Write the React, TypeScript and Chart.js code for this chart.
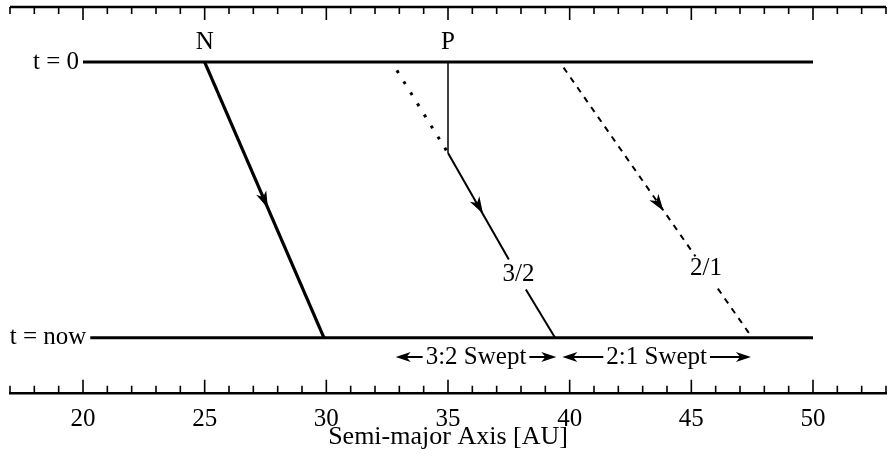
import React, { useEffect, useRef } from 'react';
import { Chart, registerables } from 'chart.js';

Chart.register(...registerables);

// x: semi-major axis [AU]; y: epoch (1 = t = 0, 0 = t = now)
const X_MIN = 17;
const X_MAX = 53;
const EPOCH_MIN = -0.2;
const EPOCH_MAX = 1.2;
const xLabelValues = [20, 25, 30, 35, 40, 45, 50];

const startEpochLine = [{ x: 20, y: 1 }, { x: 50, y: 1 }];
const nowEpochLine = [{ x: 20.3, y: 0 }, { x: 50, y: 0 }];
const neptunePath = [{ x: 25, y: 1 }, { x: 29.9, y: 0 }];
const plutoDrop = [{ x: 35, y: 1 }, { x: 35, y: 0.67 }];
const res32Before = [{ x: 32.9, y: 0.97 }, { x: 35, y: 0.67 }];
const res32Upper = [{ x: 35, y: 0.67 }, { x: 37.5, y: 0.284 }];
const res32Lower = [{ x: 38.2, y: 0.175 }, { x: 39.4, y: 0 }];
const res21Upper = [{ x: 39.75, y: 0.98 }, { x: 45.17, y: 0.295 }];
const res21Lower = [{ x: 46.09, y: 0.178 }, { x: 47.5, y: 0 }];

const arrowMarks = [
  { x: 27.6, y: 0.47, path: neptunePath },
  { x: 36.44, y: 0.45, path: res32Upper },
  { x: 43.86, y: 0.46, path: res21Upper },
];

const pointLabels = [
  { text: 'N', x: 25, y: 1.07 },
  { text: 'P', x: 35, y: 1.07 },
  { text: '3/2', x: 37.9, y: 0.23 },
  { text: '2/1', x: 45.6, y: 0.25 },
];

const epochLabels = [
  { text: 't = 0', line: startEpochLine },
  { text: 't = now', line: nowEpochLine },
];

const sweptRanges = [
  { text: '3:2 Swept', from: 32.85, to: 39.45, y: -0.07 },
  { text: '2:1 Swept', from: 39.7, to: 47.45, y: -0.07 },
];

const SERIF = '"Liberation Serif", "Times New Roman", Times, serif';

function arrowHead(ctx: CanvasRenderingContext2D, px: number, py: number, dx: number, dy: number, L: number, W: number) {
  const nx = -dy;
  const ny = dx;
  ctx.beginPath();
  ctx.moveTo(px, py);
  ctx.lineTo(px - dx * L + nx * W / 2, py - dy * L + ny * W / 2);
  ctx.lineTo(px - dx * L * 0.72, py - dy * L * 0.72);
  ctx.lineTo(px - dx * L - nx * W / 2, py - dy * L - ny * W / 2);
  ctx.closePath();
  ctx.fill();
}

export default function App() {
  const ref = useRef<HTMLCanvasElement>(null);

  useEffect(() => {
    const canvas = ref.current!;
    const seg = (data: any[], width: number, dash: number[] = []) => ({
      data,
      borderColor: '#000',
      backgroundColor: '#000',
      borderWidth: width,
      borderDash: dash,
      pointRadius: 0,
      pointHoverRadius: 0,
      fill: false,
      tension: 0,
      borderCapStyle: 'butt',
    });

    const annot = {
      id: 'annot',
      afterDraw(chart: any) {
        const ctx: CanvasRenderingContext2D = chart.ctx;
        const xs = chart.scales.x;
        const ys = chart.scales.y;
        const area = chart.chartArea;
        ctx.save();
        ctx.fillStyle = '#000';
        ctx.strokeStyle = '#000';

        // top axis line (mirror of bottom axis)
        ctx.lineWidth = 2.5;
        ctx.beginPath();
        ctx.moveTo(xs.left, area.top);
        ctx.lineTo(xs.right, area.top);
        ctx.stroke();

        // inward tick marks on top and bottom axes
        ctx.lineWidth = 1.6;
        for (const t of xs.ticks) {
          const v = t.value;
          const px = xs.getPixelForValue(v);
          const len = v % 5 === 0 ? 13 : 7;
          ctx.beginPath();
          ctx.moveTo(px, area.bottom);
          ctx.lineTo(px, area.bottom - len);
          ctx.moveTo(px, area.top);
          ctx.lineTo(px, area.top + len);
          ctx.stroke();
        }

        // arrowheads along paths
        for (const a of arrowMarks) {
          const p0 = a.path[0];
          const p1 = a.path[a.path.length - 1];
          const x0 = xs.getPixelForValue(p0.x), y0 = ys.getPixelForValue(p0.y);
          const x1 = xs.getPixelForValue(p1.x), y1 = ys.getPixelForValue(p1.y);
          const len = Math.hypot(x1 - x0, y1 - y0);
          arrowHead(ctx, xs.getPixelForValue(a.x), ys.getPixelForValue(a.y), (x1 - x0) / len, (y1 - y0) / len, 17, 11);
        }

        ctx.font = `25px ${SERIF}`;
        ctx.textBaseline = 'middle';
        ctx.textAlign = 'center';
        for (const l of pointLabels) {
          ctx.fillText(l.text, xs.getPixelForValue(l.x), ys.getPixelForValue(l.y));
        }

        ctx.textAlign = 'right';
        for (const l of epochLabels) {
          ctx.fillText(l.text, xs.getPixelForValue(l.line[0].x) - 4, ys.getPixelForValue(l.line[0].y));
        }

        // swept ranges
        ctx.textAlign = 'center';
        ctx.lineWidth = 2;
        for (const s of sweptRanges) {
          const a = xs.getPixelForValue(s.from);
          const b = xs.getPixelForValue(s.to);
          const py = ys.getPixelForValue(s.y);
          const mid = (a + b) / 2;
          const w = ctx.measureText(s.text).width;
          ctx.fillText(s.text, mid, py);
          ctx.beginPath();
          ctx.moveTo(a + 8, py);
          ctx.lineTo(mid - w / 2 - 3, py);
          ctx.moveTo(mid + w / 2 + 3, py);
          ctx.lineTo(b - 8, py);
          ctx.stroke();
          arrowHead(ctx, a, py, -1, 0, 15, 10);
          arrowHead(ctx, b, py, 1, 0, 15, 10);
        }
        ctx.restore();
      },
    };

    const chart = new Chart(canvas, {
      type: 'line',
      data: {
        datasets: [
          seg(startEpochLine, 3),
          seg(nowEpochLine, 3),
          seg(neptunePath, 3.2),
          seg(plutoDrop, 1.5),
          seg(res32Before, 3, [3, 10]),
          seg(res32Upper, 2),
          seg(res32Lower, 2),
          seg(res21Upper, 2, [6, 6]),
          seg(res21Lower, 2, [6, 6]),
        ] as any,
      },
      options: {
        animation: false,
        responsive: true,
        maintainAspectRatio: false,
        events: [],
        layout: { padding: { left: 10, right: 1, top: 7, bottom: 0 } },
        plugins: { legend: { display: false }, tooltip: { enabled: false } },
        scales: {
          x: {
            type: 'linear',
            position: 'bottom',
            min: X_MIN,
            max: X_MAX,
            grid: { display: false },
            border: { display: true, color: '#000', width: 2.5 },
            ticks: {
              stepSize: 1,
              autoSkip: false,
              maxRotation: 0,
              padding: 4,
              color: '#000',
              font: { family: SERIF, size: 25 },
              callback: (v: any) => (xLabelValues.includes(Number(v)) ? String(v) : ''),
            },
            title: {
              display: true,
              text: 'Semi-major Axis [AU]',
              color: '#000',
              font: { family: SERIF, size: 26 },
              padding: { top: -17, bottom: 5 },
            },
          },
          y: {
            type: 'linear',
            display: false,
            min: EPOCH_MIN,
            max: EPOCH_MAX,
          },
        },
      } as any,
      plugins: [annot],
    });
    return () => chart.destroy();
  }, []);

  return (
    <div style={{ position: 'fixed', left: 0, top: 0, width: 890, height: 458, background: '#fff' }}>
      <canvas ref={ref} />
    </div>
  );
}
